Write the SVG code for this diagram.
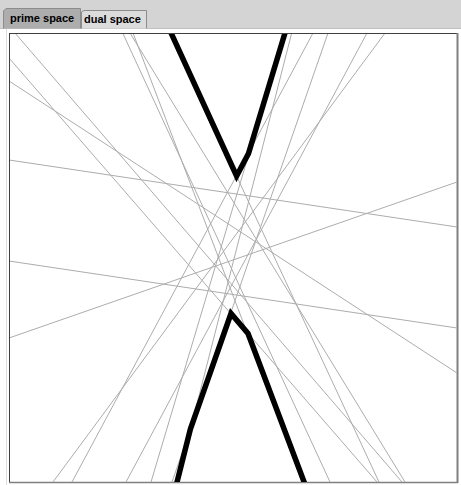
<svg xmlns="http://www.w3.org/2000/svg" width="461" height="485" viewBox="0 0 461 485">
  <style>
    .thin { stroke: #acacac; stroke-width: 1; fill: none; }
    .thick { stroke: #000000; stroke-width: 5.5; fill: none; stroke-linejoin: miter; }
    .tabtext { font-family: "Liberation Sans", Arial, sans-serif; font-size: 11px; font-weight: bold; fill: #000000; }
  </style>
  <defs>
    <clipPath id="box">
      <rect x="10" y="34" width="447" height="448"/>
    </clipPath>
  </defs>
  <rect x="0" y="0" width="461" height="485" fill="#ffffff"/>
  <rect x="0" y="0" width="461" height="29" fill="#d4d4d4"/>
  <line x1="0" y1="28.5" x2="461" y2="28.5" stroke="#c0c0c0"/>
  <line x1="6.5" y1="29" x2="6.5" y2="485" stroke="#dcdcdc"/>

  <g id="tab-prime">
    <path d="M3.5,28.5 L3.5,11 L6,8.5 L80.5,8.5 L80.5,28.5" fill="#adadad" stroke="#8c8c8c"/>
    <text class="tabtext" x="10" y="22">prime space</text>
  </g>
  <g id="tab-dual">
    <path d="M81.5,28.5 L81.5,12 L84,10.5 L146.5,10.5 L146.5,28.5" fill="#dcdcdc" stroke="#8c8c8c"/>
    <text class="tabtext" x="84" y="23">dual space</text>
  </g>

  <g id="frame">
    <rect x="9.5" y="33.5" width="448" height="449" fill="#ffffff" stroke="none"/>
    <line x1="9.5" y1="33" x2="9.5" y2="483" stroke="#404040"/>
    <line x1="9" y1="33.5" x2="458" y2="33.5" stroke="#404040"/>
    <line x1="457.5" y1="33" x2="457.5" y2="483" stroke="#808080" stroke-width="2"/>
    <line x1="9" y1="482.5" x2="458" y2="482.5" stroke="#808080" stroke-width="1.5"/>
  </g>

  <g id="connectors" clip-path="url(#box)">
    <line class="thin" x1="15" y1="33" x2="402" y2="482"/>
    <line class="thin" x1="9" y1="58" x2="377" y2="482"/>
    <line class="thin" x1="9" y1="81" x2="457" y2="373"/>
    <line class="thin" x1="9" y1="160" x2="457" y2="227"/>
    <line class="thin" x1="9" y1="261" x2="457" y2="328"/>
    <line class="thin" x1="9" y1="338" x2="457" y2="182"/>
    <line class="thin" x1="122.7" y1="33" x2="330" y2="482"/>
    <line class="thin" x1="130" y1="33" x2="405" y2="482"/>
    <line class="thin" x1="133" y1="33" x2="304" y2="482"/>
    <line class="thin" x1="170" y1="33" x2="379" y2="482"/>
    <line class="thin" x1="285" y1="33" x2="151" y2="482"/>
    <line class="thin" x1="291.7" y1="33" x2="177" y2="482"/>
    <line class="thin" x1="328" y1="33" x2="172" y2="482"/>
    <line class="thin" x1="313" y1="33" x2="72" y2="482"/>
    <line class="thin" x1="367" y1="33" x2="126" y2="482"/>
    <line class="thin" x1="385" y1="33" x2="53" y2="482"/>
  </g>

  <g id="upper-envelope" clip-path="url(#box)">
    <polyline class="thick" points="168.8,28 236.6,176 248.5,153.5 286.5,28"/>
  </g>
  <g id="lower-envelope" clip-path="url(#box)">
    <polyline class="thick" points="175.8,487 190.4,429 231,313.5 248,333.5 306,487"/>
  </g>
</svg>
